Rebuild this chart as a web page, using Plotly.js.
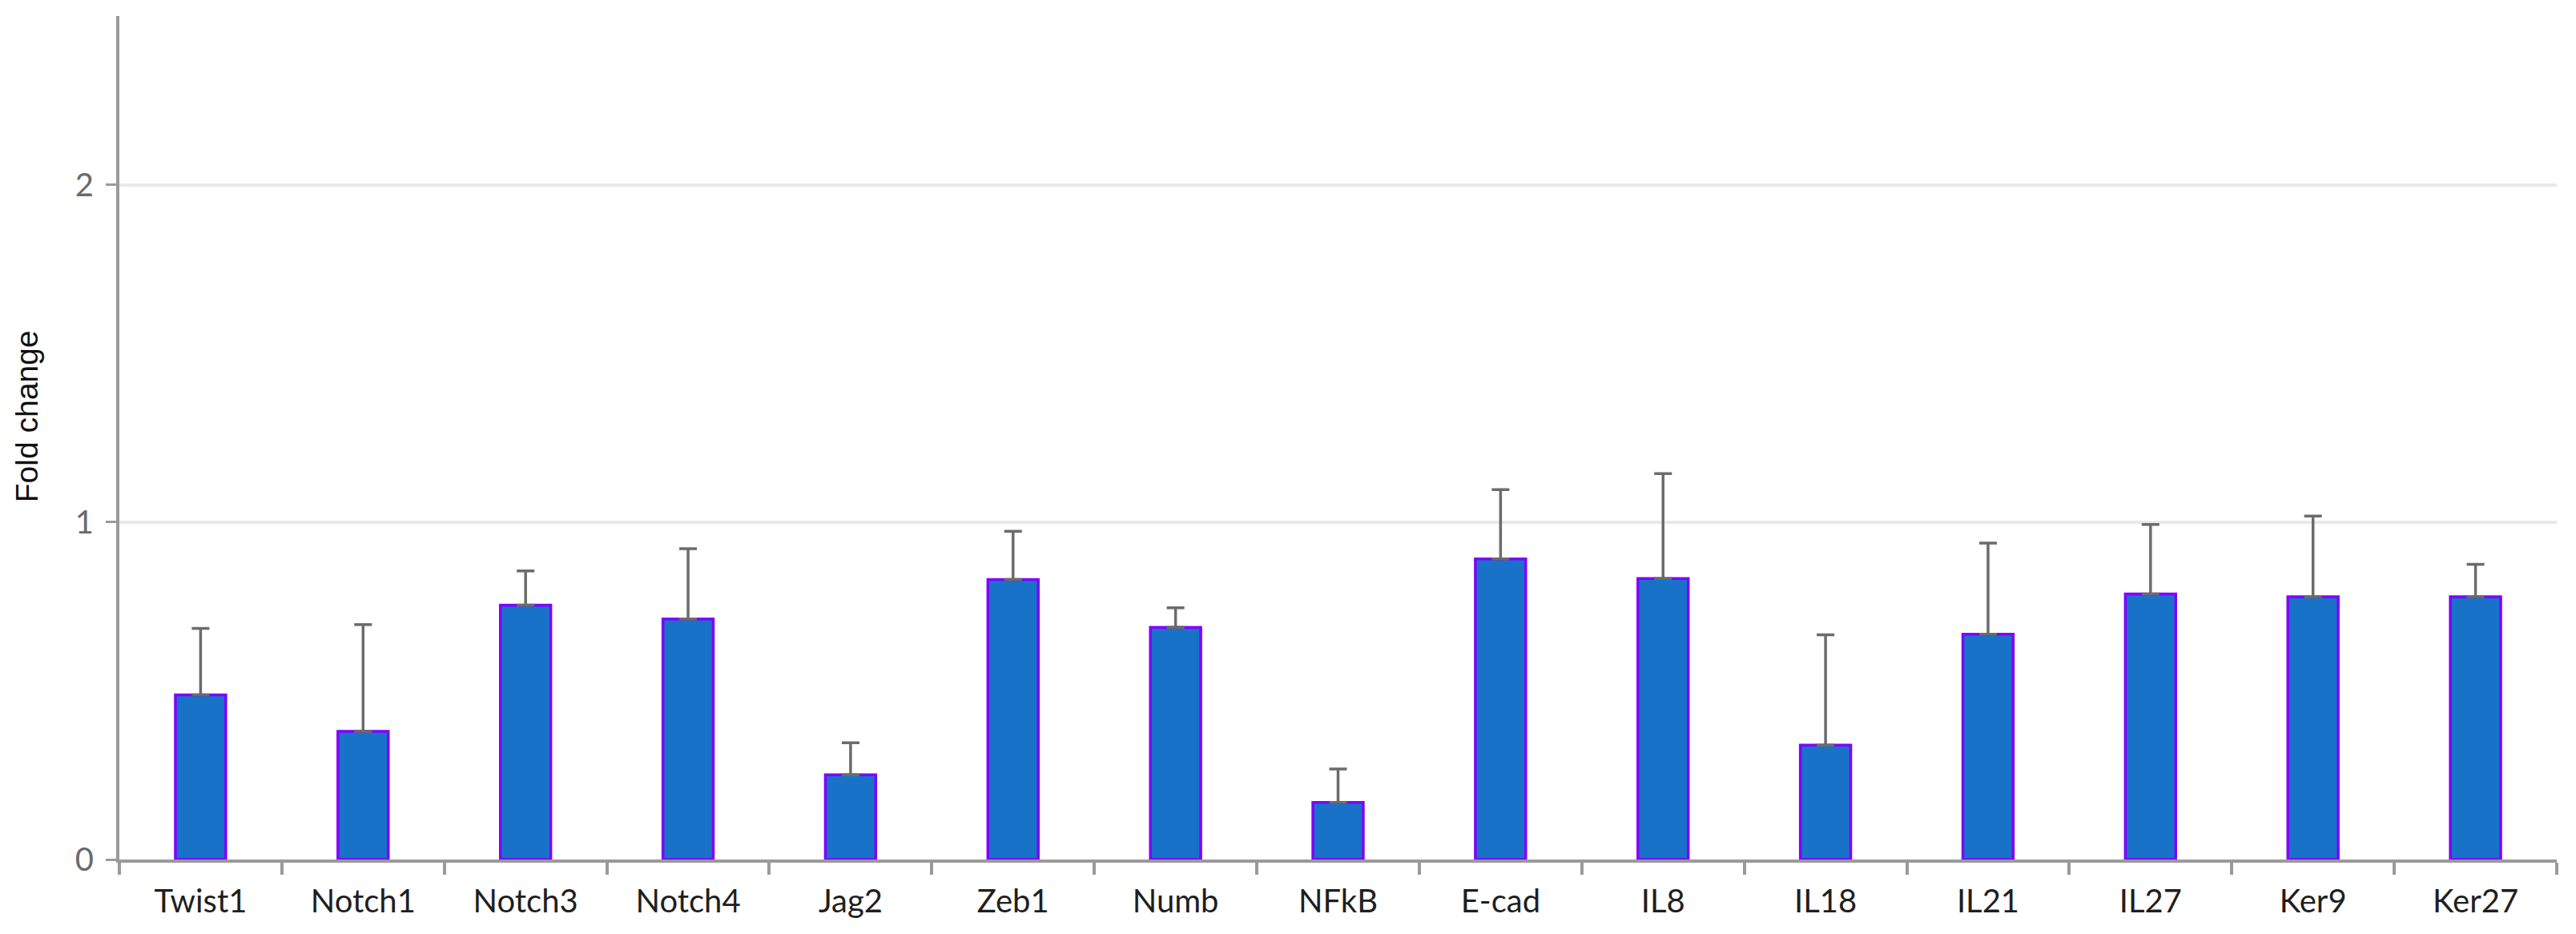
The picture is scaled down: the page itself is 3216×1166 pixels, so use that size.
<!DOCTYPE html>
<html>
<head>
<meta charset="utf-8">
<script src="https://cdn.plot.ly/plotly-3.0.1.min.js"></script>
<style>
  html, body { margin: 0; padding: 0; background: #ffffff; }
  #chart { width: 3216px; height: 1166px; }
</style>
</head>
<body>
<div id="chart"></div>
<script>
// Data
const genes = ["Twist1", "Notch1", "Notch3", "Notch4", "Jag2", "Zeb1", "Numb", "NFkB",
               "E-cad", "IL8", "IL18", "IL21", "IL27", "Ker9", "Ker27"];
const foldChange = [0.488, 0.380, 0.754, 0.713, 0.251, 0.830, 0.688, 0.169,
                    0.891, 0.833, 0.339, 0.668, 0.787, 0.779, 0.779];
const errorPlus = [0.197, 0.316, 0.101, 0.208, 0.095, 0.143, 0.058, 0.099,
                   0.205, 0.311, 0.327, 0.270, 0.206, 0.239, 0.096];
const errorMinus = genes.map(() => 0);
const yTickVals = [0, 1, 2];
const yTickText = ["0", "1", "2"];
const yTitle = "Fold change";

const axisGray = "#9a9a9a";
const tickFont = { family: "Lato, 'Open Sans', sans-serif", size: 40, color: "#1f1f1f" };

const trace = {
  type: "bar",
  x: genes,
  y: foldChange,
  width: 0.31,
  marker: {
    color: "#1872c8",
    line: { color: "#8000ff", width: 3.5 }
  },
  error_y: {
    type: "data",
    symmetric: false,
    array: errorPlus,
    arrayminus: errorMinus,
    color: "#6b6b6b",
    thickness: 3.5,
    width: 11
  },
  hoverinfo: "x+y"
};

const layout = {
  width: 3216,
  height: 1166,
  paper_bgcolor: "#ffffff",
  plot_bgcolor: "#ffffff",
  margin: { l: 149, r: 24, t: 20, b: 93 },
  showlegend: false,
  bargap: 0.69,
  xaxis: {
    type: "category",
    categoryorder: "array",
    categoryarray: genes,
    showline: true,
    linecolor: axisGray,
    linewidth: 4,
    ticks: "outside",
    tickson: "boundaries",
    ticklen: 15,
    tickwidth: 4,
    tickcolor: axisGray,
    tickfont: tickFont,
    ticklabelstandoff: 14,
    showgrid: false,
    zeroline: false,
    automargin: false,
    fixedrange: true
  },
  yaxis: {
    range: [0, 2.5],
    tickmode: "array",
    tickvals: yTickVals,
    ticktext: yTickText,
    showline: true,
    linecolor: axisGray,
    linewidth: 4,
    ticks: "outside",
    ticklen: 13,
    tickwidth: 3,
    tickcolor: axisGray,
    tickfont: { family: "Lato, 'Open Sans', sans-serif", size: 40, color: "#6a6a6a" },
    ticklabelstandoff: 7,
    showgrid: true,
    gridcolor: "#e8e8e8",
    gridwidth: 4,
    zeroline: false,
    automargin: false,
    fixedrange: true
  },
  annotations: [{
    text: yTitle,
    xref: "paper",
    yref: "paper",
    x: -0.0381,
    y: 0.525,
    xanchor: "center",
    yanchor: "middle",
    textangle: -90,
    showarrow: false,
    font: { family: "'Liberation Sans', Arial, sans-serif", size: 39, color: "#111111" }
  }]
};

Plotly.newPlot("chart", [trace], layout, { displayModeBar: false, staticPlot: true });
</script>
</body>
</html>
